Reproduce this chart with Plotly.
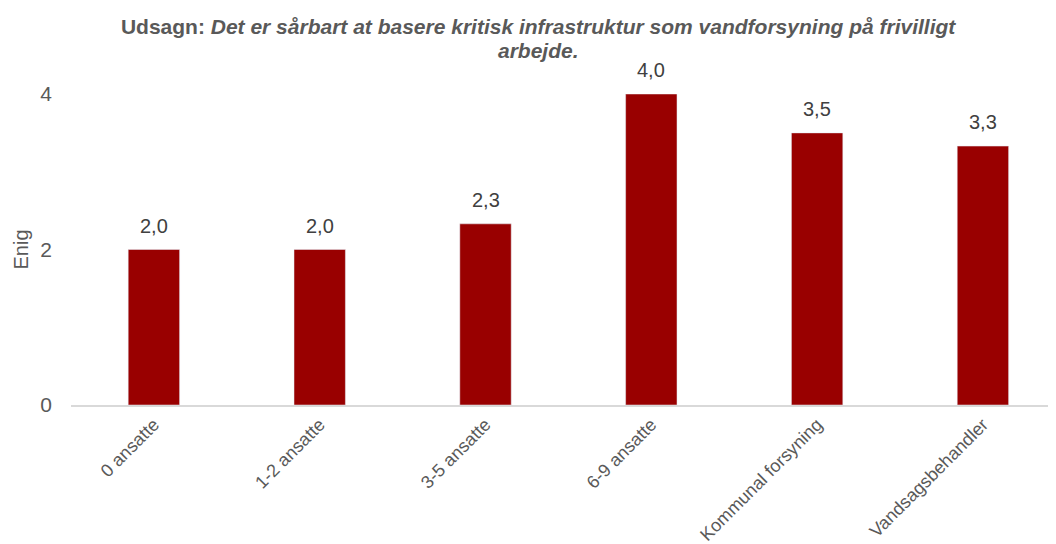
import plotly.graph_objects as go

colors_scheme = {
    'background': '#FFFFFF',
    'text': '#595959',
    'label': '#404040',
    'bar': '#990000',
    'axis': '#D9D9D9'
}

# =============================
categories = ['0 ansatte', '1-2 ansatte', '3-5 ansatte', '6-9 ansatte', 'Kommunal forsyning', 'Vandsagsbehandler']
enig_values = [2.0, 2.0, 2.33, 4.0, 3.5, 3.33]
enig_labels = [('%.1f' % v).replace('.', ',') for v in enig_values]
y_ticks = [0, 2, 4]

fig = go.Figure(data=[go.Bar(
    x=categories,
    y=enig_values,
    marker_color=colors_scheme['bar'],
    width=0.31,
    hovertext=enig_labels
)])

# value labels above bars
value_annotations = [dict(
    x=c, y=v, text=t, xref='x', yref='y',
    showarrow=False, yanchor='bottom', yshift=11,
    font=dict(size=20, color=colors_scheme['label'])
) for c, v, t in zip(categories, enig_values, enig_labels)]

# second line of the title
value_annotations.append(dict(
    text='<b><i>arbejde.</i></b>', xref='paper', yref='paper',
    x=(530 - 63) / 993, y=1.140, xanchor='center', yanchor='middle',
    showarrow=False, font=dict(size=21, color=colors_scheme['text'])
))

fig.update_layout(
    title=dict(
        text='<b>Udsagn: <i>Det er sårbart at basere kritisk infrastruktur som vandforsyning på frivilligt</i></b>',
        x=0.502, xanchor='center', xref='container',
        y=0.966, yanchor='middle', yref='container',
        font=dict(size=21, color=colors_scheme['text'])
    ),
    annotations=value_annotations,
    width=1056, height=544,
    margin=dict(l=63, r=0, t=86, b=147),
    plot_bgcolor=colors_scheme['background'],
    paper_bgcolor=colors_scheme['background'],
    font=dict(family='Liberation Sans, Arial, sans-serif', color=colors_scheme['text']),
    showlegend=False
)
fig.update_xaxes(
    tickangle=-45,
    tickfont=dict(size=18, color=colors_scheme['text']),
    showline=True, linecolor=colors_scheme['axis'], linewidth=2,
    showgrid=False, ticks='',
    range=[-0.5, 5.489]
)
fig.update_yaxes(
    range=[0, 4],
    tickvals=y_ticks,
    tickfont=dict(size=21, color=colors_scheme['text']),
    title=dict(text='Enig', font=dict(size=20, color=colors_scheme['text']), standoff=6),
    showgrid=False, zeroline=False, showline=False, ticks='',
    ticklabelstandoff=18
)

fig.write_html("out.html")
